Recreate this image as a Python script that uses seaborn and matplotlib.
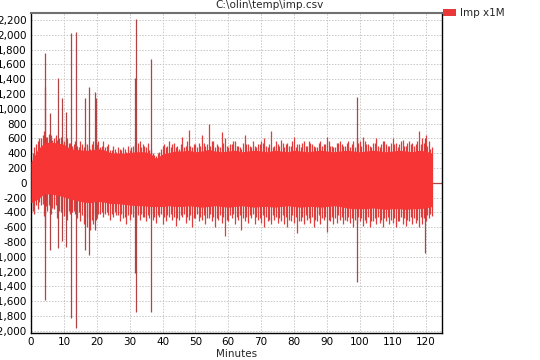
import numpy as np
import pandas as pd
import matplotlib
matplotlib.use("Agg")
import matplotlib.pyplot as plt
from matplotlib.patches import Patch
import seaborn as sns

# ---- data ----
core_min = [0, 2, 4, 6, 8, 10, 12, 14, 16, 18, 20, 22, 24, 26, 28, 30, 32, 34, 36, 38,
            40, 42, 44, 46, 48, 50, 52, 54, 56, 58, 60, 62, 64, 66, 68, 70, 72, 74, 76, 78,
            80, 82, 84, 86, 88, 90, 92, 94, 96, 98, 100, 102, 104, 106, 108, 110, 112, 114,
            116, 118, 120, 122]
core_hi = [280, 450, 540, 550, 540, 520, 460, 450, 440, 440, 460, 450, 410, 400, 400, 410,
           420, 420, 410, 330, 390, 410, 430, 430, 440, 420, 430, 450, 430, 420, 430, 440,
           420, 430, 440, 430, 420, 440, 430, 420, 440, 430, 420, 430, 440, 430, 420, 430,
           440, 430, 420, 430, 440, 430, 420, 430, 440, 430, 420, 440, 430, 400]
core_lo = [-270, -220, -150, -150, -170, -190, -220, -240, -260, -270, -250, -260, -280,
           -280, -290, -300, -310, -310, -320, -320, -320, -310, -320, -320, -310, -320,
           -330, -320, -310, -320, -330, -320, -310, -320, -330, -320, -320, -330, -320,
           -310, -320, -330, -320, -320, -330, -320, -310, -320, -340, -350, -350, -350,
           -340, -350, -360, -350, -350, -360, -350, -350, -340, -320]

fringe_min = list(range(0, 123))
fringe_hi = [350, 480, 560, 600, 700, 620, 640, 600, 580, 620, 560, 600, 540, 520, 500, 560,
             480, 520, 460, 560, 520, 480, 560, 500, 450, 500, 420, 460, 480, 420, 450, 500,
             480, 560, 520, 480, 440, 400, 360, 420, 500, 480, 560, 520, 480, 460, 620, 500,
             710, 480, 520, 540, 640, 500, 790, 560, 480, 500, 680, 600, 480, 520, 560, 500,
             460, 640, 530, 480, 500, 520, 560, 600, 480, 700, 500, 520, 580, 480, 540, 500,
             620, 520, 480, 560, 500, 540, 500, 480, 560, 520, 620, 500, 480, 540, 560, 500,
             540, 480, 560, 600, 560, 620, 520, 500, 540, 600, 480, 560, 520, 500, 600, 540,
             520, 580, 500, 560, 540, 520, 700, 600, 640, 560, 480]
fringe_lo = [-400, -420, -350, -300, -450, -380, -420, -350, -480, -400, -450, -500, -420,
             -380, -480, -520, -560, -600, -640, -560, -480, -420, -460, -400, -500, -460,
             -440, -520, -480, -560, -500, -460, -540, -500, -460, -520, -480, -500, -540,
             -460, -560, -520, -460, -500, -580, -500, -460, -540, -500, -600, -480, -520,
             -500, -560, -480, -520, -600, -500, -540, -720, -520, -480, -560, -500, -640,
             -520, -540, -480, -560, -500, -540, -600, -520, -560, -500, -540, -520, -560,
             -600, -520, -540, -680, -520, -560, -500, -540, -600, -520, -560, -500, -660,
             -520, -560, -540, -500, -560, -520, -540, -600, -560, -520, -580, -540, -600,
             -520, -560, -540, -600, -520, -560, -540, -600, -520, -560, -580, -520, -560,
             -540, -600, -560, -520, -480, -450]

fringe2_min = [m + 0.5 for m in range(0, 122)]
fringe2_hi = [400, 520, 600, 640, 620, 660, 580, 640, 600, 580, 620, 540, 500, 560, 480, 520,
              540, 500, 520, 480, 560, 500, 480, 520, 440, 460, 480, 440, 460, 500, 480, 520,
              540, 480, 500, 540, 460, 380, 400, 460, 520, 500, 480, 540, 500, 520, 480, 560,
              500, 520, 480, 500, 540, 520, 500, 560, 520, 480, 540, 500, 520, 560, 500, 480,
              540, 520, 500, 560, 480, 520, 540, 500, 520, 480, 560, 500, 540, 520, 500, 560,
              480, 520, 540, 500, 560, 520, 480, 540, 500, 520, 560, 500, 480, 540, 520, 500,
              560, 520, 480, 540, 500, 560, 520, 480, 540, 500, 520, 560, 500, 540, 520, 480,
              560, 500, 540, 520, 500, 560, 520, 540, 500, 460]
fringe2_lo = [-380, -300, -260, -280, -320, -300, -340, -300, -380, -360, -400, -380, -400,
              -420, -400, -440, -460, -480, -500, -440, -420, -400, -420, -440, -420, -400,
              -440, -420, -460, -440, -420, -460, -440, -420, -460, -440, -420, -460, -440,
              -420, -460, -440, -420, -460, -480, -440, -420, -460, -440, -480, -420, -460,
              -440, -480, -420, -460, -480, -440, -460, -500, -440, -420, -460, -440, -480,
              -460, -440, -420, -460, -480, -440, -460, -500, -440, -460, -480, -440, -460,
              -500, -440, -460, -520, -460, -440, -480, -460, -500, -440, -480, -460, -500,
              -460, -480, -440, -460, -500, -460, -480, -500, -460, -480, -500, -460, -520,
              -480, -460, -500, -480, -460, -500, -480, -520, -460, -480, -500, -460, -480,
              -500, -460, -480, -440, -420]

spike_min = [4.2, 4.4, 5.9, 8.2, 9.5, 10.6, 12.3, 13.8, 16.5, 17.7, 19.4, 19.7,
             31.6, 31.9, 36.6, 99.0, 119.9]
spike_lo = [-1590, -600, -910, -880, -780, -870, -1830, -1960, -910, -980, -640, -500,
            -1220, -1740, -1740, -1340, -950]
spike_hi = [1750, 1300, 940, 1410, 1150, 960, 2020, 2040, 1150, 1300, 1230, 1150,
            1410, 2210, 1670, 1160, 600]

tail_min = [122.3, 125.0]
tail_val = [0, 0]

yticks = list(range(-2000, 2201, 200))
xticks = list(range(0, 121, 10))

title = "C:\\olin\\temp\\imp.csv"
series_name = "Imp x1M"

# ---- styling ----
sns.set_style("white")
plt.rcParams['font.family'] = ['DejaVu Sans']

RED = "#f73535"
FRINGE = "#e03c3c"
SPIKE = "#b04444"

fig = plt.figure(figsize=(5.4, 3.6), dpi=100)
ax = fig.add_axes([31 / 540, 1 - 333 / 360, (442 - 31) / 540, (333 - 13) / 360])

ax.vlines(fringe_min, fringe_lo, fringe_hi, color=FRINGE, lw=0.9, zorder=1.5)
ax.vlines(fringe2_min, fringe2_lo, fringe2_hi, color=FRINGE, lw=0.9, zorder=1.5)
ax.vlines(spike_min, spike_lo, spike_hi, color=SPIKE, lw=0.9, zorder=1.6)

df_core = pd.DataFrame({
    "Minutes": np.concatenate([core_min, core_min]),
    "value": np.concatenate([core_lo, core_hi]),
})
sns.lineplot(data=df_core, x="Minutes", y="value", estimator="mean",
             errorbar=lambda v: (v.min(), v.max()), color=RED, linewidth=0,
             err_kws={"alpha": 1, "linewidth": 0, "zorder": 3}, ax=ax)
sns.lineplot(x=tail_min, y=tail_val, color=SPIKE, linewidth=0.9, ax=ax)

ax.set_xlim(0, 125)
ax.set_ylim(-2030, 2295)
ax.set_xticks(xticks)
ax.set_yticks(yticks)
ax.set_yticklabels([f"{v:,}" for v in yticks])
ax.tick_params(length=0, labelsize=7.5, pad=3, colors="#000000")
ax.set_xlabel("Minutes", fontsize=7.5, labelpad=1)
ax.set_ylabel("")
ax.grid(True, color="#c8c8c8", linestyle=(0, (1.5, 1.5)), linewidth=0.7)
ax.set_axisbelow(True)

for s in ["left", "bottom", "right"]:
    ax.spines[s].set_color("#000000")
    ax.spines[s].set_linewidth(1.0)
ax.spines["top"].set_color("#707070")
ax.spines["top"].set_linewidth(1.5)

fig.text(0.5, 1 - 5 / 360, title, ha="center", va="center", fontsize=7.5)

fig.legend(handles=[Patch(facecolor="#e83838", edgecolor="none", label=series_name)],
           loc="upper left", bbox_to_anchor=(443 / 540, 1 - 8 / 360), frameon=False,
           fontsize=7.5, handlelength=1.2, handleheight=0.7, handletextpad=0.4,
           borderaxespad=0, borderpad=0)

fig.savefig("out.png", dpi=100)
